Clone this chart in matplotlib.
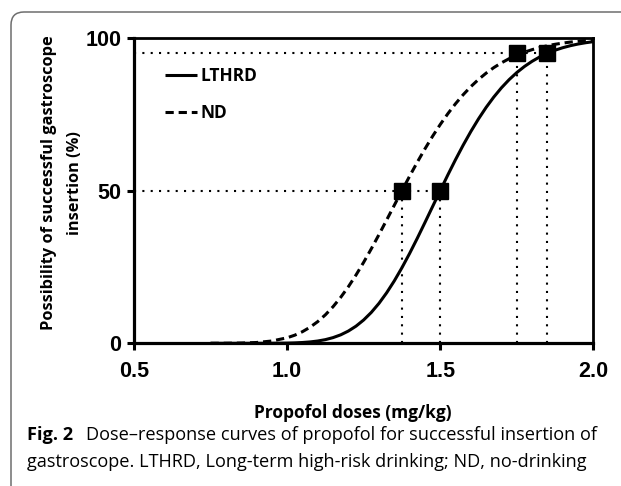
import matplotlib
matplotlib.use("Agg")
import matplotlib.pyplot as plt
from matplotlib.patches import FancyBboxPatch
from matplotlib.font_manager import FontProperties, fontManager
from matplotlib.transforms import IdentityTransform

# ---------------- data ----------------
dose = [0.75, 0.80, 0.85, 0.90, 0.95,
        1.000, 1.025, 1.050, 1.075, 1.100, 1.125, 1.150, 1.175, 1.200, 1.225,
        1.250, 1.275, 1.300, 1.325, 1.350, 1.375, 1.400, 1.425, 1.450, 1.475,
        1.500, 1.525, 1.550, 1.575, 1.600, 1.625, 1.650, 1.675, 1.700, 1.725,
        1.750, 1.775, 1.800, 1.825, 1.850, 1.875, 1.900, 1.925, 1.950, 1.975,
        2.000]
lthrd_pct = [0.0, 0.0, 0.0, 0.0, 0.02,
             0.07, 0.14, 0.26, 0.45, 0.75, 1.20, 1.86, 2.77, 4.01, 5.61,
             7.64, 10.12, 13.08, 16.53, 20.43, 24.75, 29.42, 34.37, 39.52, 44.76,
             50.0, 55.16, 60.15, 64.90, 69.36, 73.49, 77.27, 80.66, 83.69, 86.35,
             88.67, 90.66, 92.36, 93.80, 95.00, 96.00, 96.81, 97.48, 98.02, 98.45,
             98.80]
nd_pct = [0.0, 0.02, 0.08, 0.26, 0.75,
          1.81, 2.66, 3.80, 5.27, 7.10, 9.33, 11.98, 15.05, 18.52, 22.36,
          26.53, 30.96, 35.60, 40.37, 45.20, 50.0, 54.72, 59.29, 63.66, 67.80,
          71.65, 75.21, 78.47, 81.42, 84.07, 86.42, 88.49, 90.30, 91.87, 93.22,
          94.37, 95.35, 96.18, 96.88, 97.46, 97.94, 98.33, 98.66, 98.92, 99.14,
          99.32]
ed_dose = [1.375, 1.50, 1.75, 1.85]
ed_pct = [50, 50, 95, 95]

series_labels = ["LTHRD", "ND"]
x_ticks = [0.5, 1.0, 1.5, 2.0]
x_ticklabels = ["0.5", "1.0", "1.5", "2.0"]
y_ticks = [0, 50, 100]
y_ticklabels = ["0", "50", "100"]
x_label = "Propofol doses (mg/kg)"
y_label_lines = ["Possibility of successful gastroscope", "insertion (%)"]
caption_bold = "Fig. 2"
caption_line1 = "Dose\u2013response curves of propofol for successful insertion of"
caption_line2 = "gastroscope. LTHRD, Long-term high-risk drinking; ND, no-drinking"

# ---------------- fonts ----------------
_installed = set(f.name for f in fontManager.ttflist)


def pick(cands, default="DejaVu Sans"):
    for c in cands:
        if c in _installed:
            return c
    return default


LAB_FONT = pick(["Open Sans", "Noto Sans", "DejaVu Sans"])
TICK_FONT = pick(["Liberation Sans", "Arimo", "DejaVu Sans"])
CAP_FONT = pick(["Open Sans", "Noto Sans", "DejaVu Sans"])

# ---------------- figure ----------------
W, H = 621, 486
fig = plt.figure(figsize=(W / 100, H / 100), dpi=100)
fig.patch.set_facecolor("white")
renderer = fig.canvas.get_renderer()


def text_width(s, fp):
    w, h, d = renderer.get_text_width_height_descent(s, fp, ismath=False)
    return w


def fit_size(s, family, weight, target_px):
    fp = FontProperties(family=family, weight=weight, size=10)
    return 10 * target_px / text_width(s, fp)


# rounded frame (display pixels)
frame = FancyBboxPatch((11, -20), 660, H - 12 + 20, boxstyle="round,pad=0,rounding_size=13",
                       transform=IdentityTransform(), facecolor="none",
                       edgecolor="#6e6e6e", linewidth=1.1)
fig.patches.append(frame)

ax_l, ax_r, ax_t, ax_b = 134, 593.3, 38, 343.3
ax = fig.add_axes([ax_l / W, (H - ax_b) / H, (ax_r - ax_l) / W, (ax_b - ax_t) / H])

# guide dotted lines
dot = (0, (1, 3))
ax.plot([0.5, ed_dose[3]], [ed_pct[3], ed_pct[3]], color="black", lw=1.5, ls=dot, zorder=2)
ax.plot([0.5, ed_dose[1]], [ed_pct[1], ed_pct[1]], color="black", lw=1.5, ls=dot, zorder=2)
for xd, yp in zip(ed_dose, ed_pct):
    ax.plot([xd, xd], [0, yp], color="black", lw=1.5, ls=dot, zorder=2)

# curves
ax.plot(dose, lthrd_pct, color="black", lw=2.2, ls="-", label=series_labels[0], zorder=3,
        solid_capstyle="butt")
ax.plot(dose, nd_pct, color="black", lw=2.2, ls=(0, (2.7, 1.6)), label=series_labels[1], zorder=3)

# ED markers
ax.plot(ed_dose, ed_pct, ls="none", marker="s", ms=11, color="black", zorder=4, clip_on=False)

ax.set_xlim(0.5, 2.0)
ax.set_ylim(0, 100)
for s in ax.spines.values():
    s.set_linewidth(2.0)
ax.spines["left"].set_linewidth(2.3)
ax.spines["bottom"].set_linewidth(2.3)

tick_fp = dict(family=TICK_FONT, weight="bold", size=15.5)
ax.set_xticks(x_ticks)
ax.set_xticklabels(x_ticklabels, fontdict=tick_fp)
ax.set_yticks(y_ticks)
ax.set_yticklabels(y_ticklabels, fontdict=tick_fp)
ax.tick_params(axis="both", direction="out", length=5, width=2.2, top=False, right=False)
ax.tick_params(axis="x", pad=8)
ax.tick_params(axis="y", pad=4)

# legend
leg = ax.legend(loc="upper left",
                bbox_to_anchor=((165 - ax_l) / (ax_r - ax_l), (ax_b - 67) / (ax_b - ax_t)),
                frameon=False, borderpad=0, borderaxespad=0, handlelength=1.85,
                handletextpad=0.2, labelspacing=1.1,
                prop=FontProperties(family=LAB_FONT, weight="bold", size=12.5))

# axis labels
fig.text(353 / W, 1 - 418 / H, x_label, family=LAB_FONT, weight="bold",
         size=12.5, ha="center", va="baseline")

ys = 11.8
yfp = FontProperties(family=LAB_FONT, weight="bold", size=ys)
_, lp_h, lp_d = renderer.get_text_width_height_descent("lp", yfp, ismath=False)
ls_factor = 22.5 / (lp_h - lp_d)
fig.text(62 / W, 1 - 183 / H, "\n".join(y_label_lines), family=LAB_FONT, weight="bold",
         size=ys, rotation=90, ha="center", va="center", multialignment="center",
         linespacing=ls_factor)

# caption
s1 = fit_size(caption_line1, CAP_FONT, "normal", 516)
s2 = fit_size(caption_line2, CAP_FONT, "normal", 559)
cs = (s1 + s2) / 2
bfp = FontProperties(family=CAP_FONT, weight="bold", size=cs)
bw = text_width(caption_bold, bfp)
fig.text(27 / W, 1 - 440 / H, caption_bold, family=CAP_FONT, weight="bold", size=cs,
         ha="left", va="baseline")
fig.text((27 + bw + 13) / W, 1 - 440 / H, caption_line1, family=CAP_FONT, weight="normal",
         size=cs, ha="left", va="baseline")
fig.text(27 / W, 1 - 467 / H, caption_line2, family=CAP_FONT, weight="normal",
         size=cs, ha="left", va="baseline")

fig.savefig("out.png", dpi=100, facecolor="white")
